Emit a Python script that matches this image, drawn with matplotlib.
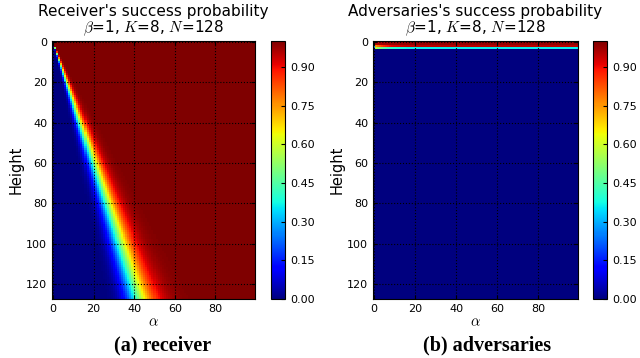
import math
import numpy as np
import matplotlib
matplotlib.use('Agg')
import matplotlib.pyplot as plt

# valores
n_height = 128          # linhas (Height 0..127)
n_alpha = 100           # colunas (alpha 0..99)
rate = 3.0              # fronteira: Height ~ 3*alpha (60 -> 20.5, 120 -> 39)
sigma = 0.17            # largura relativa da transicao

# probabilidade do adversario nas primeiras linhas (resto ~0)
adv_right = [0.98, 0.98, 0.95, 0.36]   # para alpha grande
adv_left = [0.90, 0.95, 0.72, 0.62]    # perto de alpha=0
adv_col0 = [0.85, 0.45, 0.35, 0.20]    # coluna alpha=0

titles = ["Receiver's success probability", "Adversaries's success probability"]
subtitle = r"$\beta$=1, $K$=8, $N$=128"
captions = ["(a) receiver", "(b) adversaries"]
cbar_ticks = [0.0, 0.15, 0.30, 0.45, 0.60, 0.75, 0.90]

plt.rcParams['mathtext.fontset'] = 'cm'
plt.rcParams['font.family'] = 'DejaVu Sans'

# receptor: transicao em log(rate*alpha/height)
alphas = np.arange(n_alpha)
heights = np.arange(n_height)
erf = np.vectorize(math.erf)
A, H = np.meshgrid(alphas, heights)
with np.errstate(divide='ignore', invalid='ignore'):
    z = np.log(rate * A / np.maximum(H, 0.5)) / sigma
z = np.nan_to_num(z, nan=-10, neginf=-10, posinf=10)
receiver = 0.5 * (1 + erf(z / math.sqrt(2)))
receiver[0, :] = 1.0

adversary = np.zeros((n_height, n_alpha))
for h in range(len(adv_right)):
    adversary[h, :] = adv_right[h] + (adv_left[h] - adv_right[h]) * np.exp(-alphas / 5.0)
    adversary[h, 0] = adv_col0[h]

data = [receiver, adversary]

fig = plt.figure(figsize=(6.4, 3.58), dpi=100)
ax_pos = [[52 / 640, 59 / 358, 203 / 640, 258 / 358], [373 / 640, 59 / 358, 205 / 640, 258 / 358]]
cb_pos = [[271 / 640, 59 / 358, 14 / 640, 258 / 358], [593 / 640, 59 / 358, 14 / 640, 258 / 358]]
cap_x = [163 / 640, 487 / 640]

for i in range(2):
    ax = fig.add_axes(ax_pos[i])
    im = ax.imshow(data[i], cmap='jet', vmin=0, vmax=1, aspect='auto', interpolation='nearest')
    ax.set_xticks([0, 20, 40, 60, 80])
    ax.set_yticks([0, 20, 40, 60, 80, 100, 120])
    ax.tick_params(direction='in', top=True, right=True, labelsize=8, length=3)
    ax.grid(True, color='k', linestyle=':', linewidth=0.8)
    ax.set_xlabel(r'$\alpha$', fontsize=10.5, labelpad=0)
    ax.set_ylabel('Height', fontsize=10.5, labelpad=2)
    ax.set_title(titles[i] + '\n' + subtitle, fontsize=11, pad=6, linespacing=1.0)

    cax = fig.add_axes(cb_pos[i])
    cb = fig.colorbar(im, cax=cax, ticks=cbar_ticks, format='%.2f')
    cb.ax.tick_params(direction='in', labelsize=8, length=3)
    cb.outline.set_linewidth(0.8)

    fig.text(cap_x[i], 1 - 345 / 358, captions[i], ha='center', va='center',
             fontsize=14.5, fontweight='bold', family='Liberation Serif')

fig.savefig('out.png', dpi=100)
